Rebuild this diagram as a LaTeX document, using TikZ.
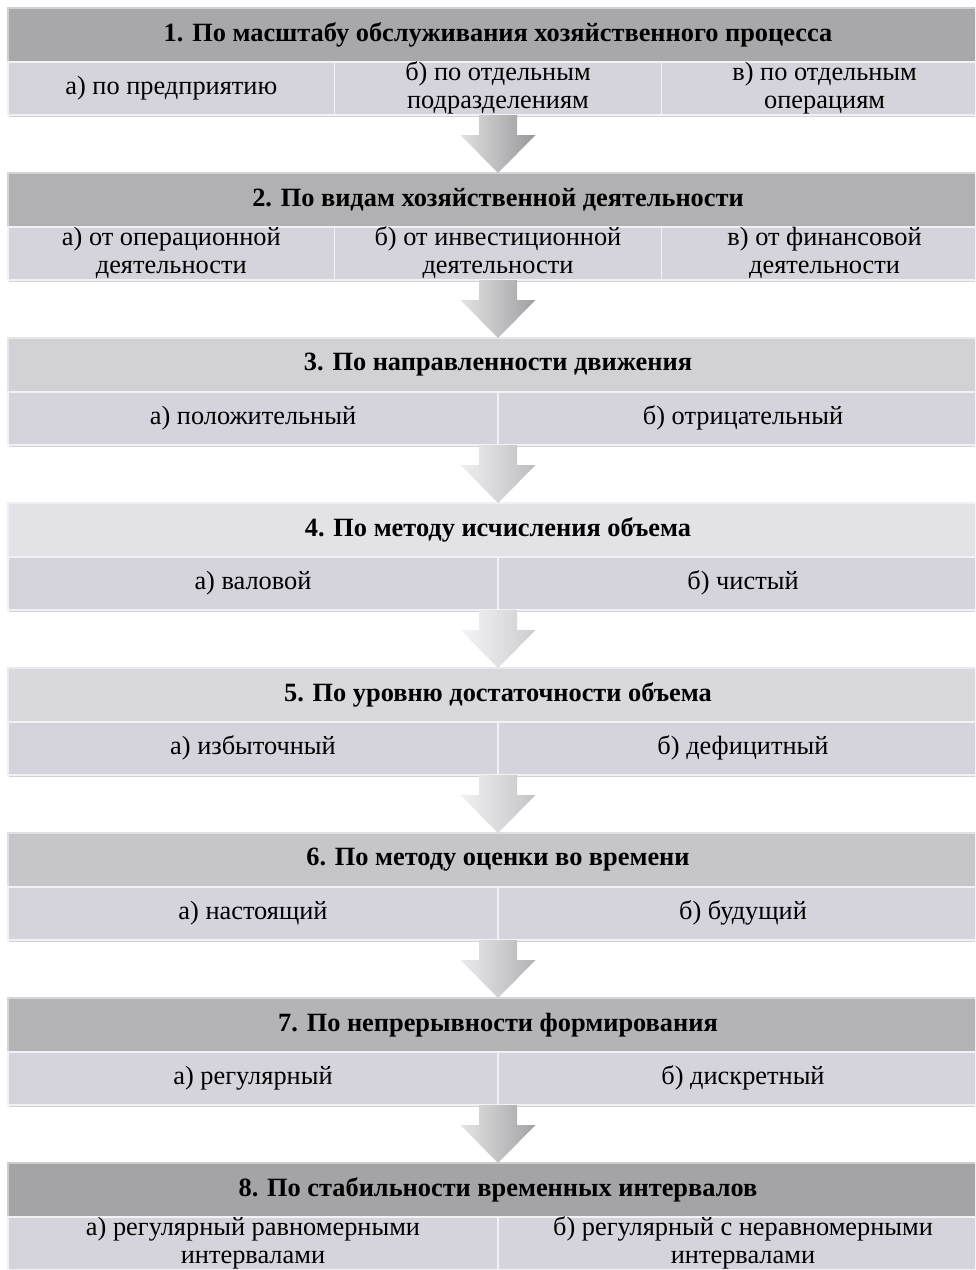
\documentclass[tikz,border=0pt]{standalone}
\usepackage{fontspec}
\setmainfont{Liberation Serif}
\usetikzlibrary{positioning,calc,shadows}

\definecolor{subgray}{HTML}{D5D4DC}
\definecolor{hdOne}{HTML}{A8A8AB}
\definecolor{hdTwo}{HTML}{B1B1B4}
\definecolor{hdThree}{HTML}{D2D2D6}
\definecolor{hdFour}{HTML}{E3E3E7}
\definecolor{hdFive}{HTML}{D9D9DD}
\definecolor{hdSix}{HTML}{C6C6CA}
\definecolor{hdSeven}{HTML}{B4B4B7}
\definecolor{hdEight}{HTML}{A4A4A7}

\tikzset{
  head/.style={fill=#1, draw=#1!55!white, line width=0.6pt, outer sep=0pt, inner sep=0pt,
    minimum width=19.6cm, minimum height=1.08cm, font=\fontsize{15}{17}\selectfont\bfseries,
    drop shadow={opacity=0.3, shadow xshift=0pt, shadow yshift=-1.2pt}},
  sub/.style={fill=subgray, draw=white!70!subgray, line width=0.6pt, outer sep=0pt, inner sep=0pt,
    minimum height=1.06cm, align=center, font=\fontsize{15}{15.9}\selectfont,
    execute at begin node={\rule{0pt}{10.5pt}},
    execute at end node={\rule[-3.5pt]{0pt}{3.5pt}},
    drop shadow={opacity=0.35, shadow xshift=0.6pt, shadow yshift=-1.4pt}},
  sub3/.style={sub, minimum width=6.533cm},
  sub2/.style={sub, minimum width=9.8cm}
}

% block arrow between two blocks
\newcommand{\flowarrow}[3]{%
  \shade[left color=#3!35!white, right color=#3!90!black]
    ($(#1)+(-0.38cm,0)$) -- ($(#1)+(0.38cm,0)$) -- ($(#2)+(0.38cm,0.76cm)$)
    -- ($(#2)+(0.75cm,0.76cm)$) -- (#2) -- ($(#2)+(-0.75cm,0.76cm)$)
    -- ($(#2)+(-0.38cm,0.76cm)$) -- cycle;}

\begin{document}
\begin{tikzpicture}
  \useasboundingbox[fill=white] (0,0) rectangle (19.5,-25.4);
  \clip (0,0) rectangle (19.5,-25.4);

  % 1
  \node[head=hdOne, anchor=north west] (h1) at (0.16,-0.16) {1. По масштабу обслуживания хозяйственного процесса};
  \node[sub3, below right=0cm and 0cm of h1.south west] (s1a) {а) по предприятию};
  \node[sub3, right=0cm of s1a] (s1b) {б) по отдельным\\подразделениям};
  \node[sub3, right=0cm of s1b] (s1c) {в) по отдельным\\операциям};
  \coordinate (o1) at (h1.south |- s1a.south);

  % 2
  \node[head=hdTwo, below right=1.16cm and 0cm of s1a.south west] (h2) {2. По видам хозяйственной деятельности};
  \node[sub3, below right=0cm and 0cm of h2.south west] (s2a) {а) от операционной\\деятельности};
  \node[sub3, right=0cm of s2a] (s2b) {б) от инвестиционной\\деятельности};
  \node[sub3, right=0cm of s2b] (s2c) {в) от финансовой\\деятельности};
  \coordinate (o2) at (h2.south |- s2a.south);

  % 3
  \node[head=hdThree, below right=1.16cm and 0cm of s2a.south west] (h3) {3. По направленности движения};
  \node[sub2, below right=0cm and 0cm of h3.south west] (s3a) {а) положительный};
  \node[sub2, right=0cm of s3a] (s3b) {б) отрицательный};
  \coordinate (o3) at (h3.south |- s3a.south);

  % 4
  \node[head=hdFour, below right=1.16cm and 0cm of s3a.south west] (h4) {4. По методу исчисления объема};
  \node[sub2, below right=0cm and 0cm of h4.south west] (s4a) {а) валовой};
  \node[sub2, right=0cm of s4a] (s4b) {б) чистый};
  \coordinate (o4) at (h4.south |- s4a.south);

  % 5
  \node[head=hdFive, below right=1.16cm and 0cm of s4a.south west] (h5) {5. По уровню достаточности объема};
  \node[sub2, below right=0cm and 0cm of h5.south west] (s5a) {а) избыточный};
  \node[sub2, right=0cm of s5a] (s5b) {б) дефицитный};
  \coordinate (o5) at (h5.south |- s5a.south);

  % 6
  \node[head=hdSix, below right=1.16cm and 0cm of s5a.south west] (h6) {6. По методу оценки во времени};
  \node[sub2, below right=0cm and 0cm of h6.south west] (s6a) {а) настоящий};
  \node[sub2, right=0cm of s6a] (s6b) {б) будущий};
  \coordinate (o6) at (h6.south |- s6a.south);

  % 7
  \node[head=hdSeven, below right=1.16cm and 0cm of s6a.south west] (h7) {7. По непрерывности формирования};
  \node[sub2, below right=0cm and 0cm of h7.south west] (s7a) {а) регулярный};
  \node[sub2, right=0cm of s7a] (s7b) {б) дискретный};
  \coordinate (o7) at (h7.south |- s7a.south);

  % 8
  \node[head=hdEight, below right=1.16cm and 0cm of s7a.south west] (h8) {8. По стабильности временных интервалов};
  \node[sub2, below right=0cm and 0cm of h8.south west] (s8a) {а) регулярный равномерными\\интервалами};
  \node[sub2, right=0cm of s8a] (s8b) {б) регулярный с неравномерными\\интервалами};

  % arrows
  \flowarrow{o1}{h2.north}{hdOne}
  \flowarrow{o2}{h3.north}{hdTwo}
  \flowarrow{o3}{h4.north}{hdThree}
  \flowarrow{o4}{h5.north}{hdFour}
  \flowarrow{o5}{h6.north}{hdFive}
  \flowarrow{o6}{h7.north}{hdSix}
  \flowarrow{o7}{h8.north}{hdSeven}
\end{tikzpicture}
\end{document}
